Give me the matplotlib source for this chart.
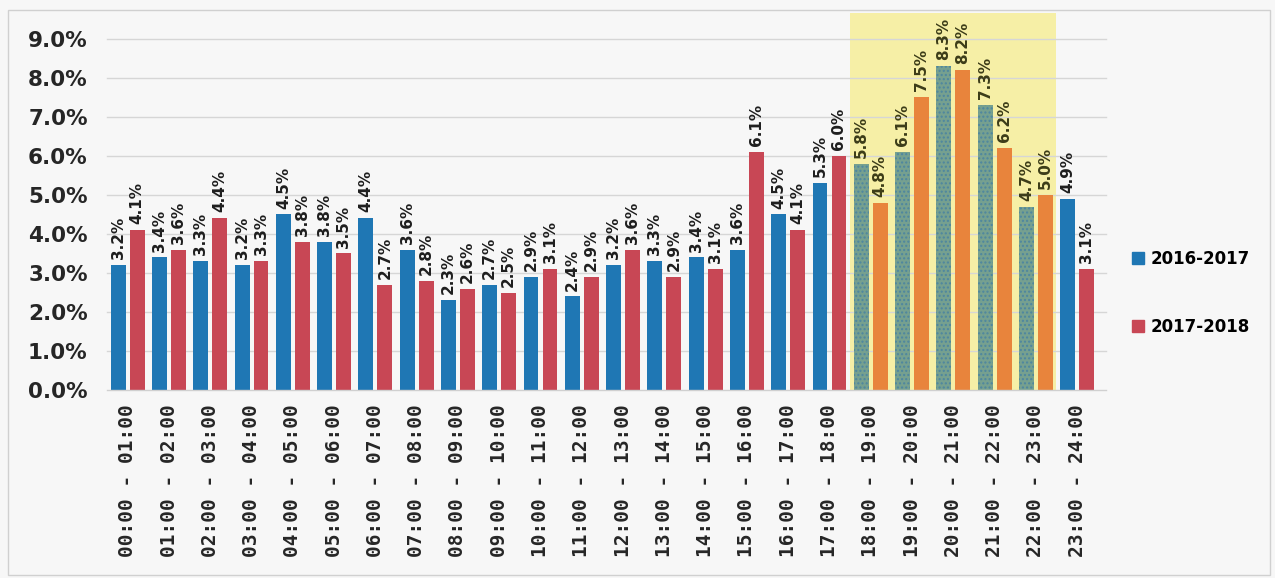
import matplotlib.pyplot as plt
from matplotlib.patches import Rectangle, Patch
import numpy as np

hours = [f"{h:02d}:00 - {h + 1:02d}:00" for h in range(24)]
s2016 = [3.2, 3.4, 3.3, 3.2, 4.5, 3.8, 4.4, 3.6, 2.3, 2.7, 2.9, 2.4,
         3.2, 3.3, 3.4, 3.6, 4.5, 5.3, 5.8, 6.1, 8.3, 7.3, 4.7, 4.9]
s2017 = [4.1, 3.6, 4.4, 3.3, 3.8, 3.5, 2.7, 2.8, 2.6, 2.5, 3.1, 2.9,
         3.6, 2.9, 3.1, 6.1, 4.1, 6.0, 4.8, 7.5, 8.2, 6.2, 5.0, 3.1]
peak = [18, 19, 20, 21, 22]

blue = "#1f77b4"
red = "#c84755"
green = "#76a08f"
orange = "#e8843c"

fig = plt.figure(figsize=(12.75, 5.78), dpi=100, facecolor="#f7f7f7")
fig.patches.append(Rectangle((0.006, 0.005), 0.99, 0.978, transform=fig.transFigure,
                             fill=False, edgecolor="#d0d0d0", linewidth=1))
ax = fig.add_axes([0.084, 0.325, 0.777, 0.652])
ax.set_facecolor("#f7f7f7")

x = np.arange(len(hours))
w = 0.36
off = 0.23

ax.axvspan(17.5, 22.5, color="#f6efa6", zorder=0, linewidth=0)

for i in x:
    in_peak = i in peak
    c1 = green if in_peak else blue
    c2 = orange if in_peak else red
    ax.bar(i - off, s2016[i], w, color=c1, zorder=2,
           hatch="...." if in_peak else None,
           edgecolor="#4d86a0" if in_peak else c1, linewidth=0)
    ax.bar(i + off, s2017[i], w, color=c2, zorder=2, linewidth=0)
    tc = "#3c3c18" if in_peak else "#1e1e1e"
    ax.text(i - off, s2016[i] + 0.15, f"{s2016[i]:.1f}%", rotation=90,
            ha="center", va="bottom", fontsize=11, fontweight="bold", color=tc)
    ax.text(i + off, s2017[i] + 0.15, f"{s2017[i]:.1f}%", rotation=90,
            ha="center", va="bottom", fontsize=11, fontweight="bold", color=tc)

ax.set_xlim(-0.5, 23.5)
ax.set_ylim(0, 9.65)
ax.set_yticks(range(10))
ax.set_yticklabels([f"{v:.1f}%" for v in range(10)], fontsize=15.5,
                   fontweight="bold", color="#262626")
ax.set_xticks(x)
ax.set_xticklabels(hours, rotation=90, fontsize=14, fontweight="bold",
                   family="DejaVu Sans Mono", color="#262626")
ax.tick_params(length=0, pad=10)
ax.tick_params(axis="y", pad=14)

for v in range(1, 10):
    ax.plot([-0.5, 23.7], [v, v], color="#d6d6d6", linewidth=1, zorder=1, clip_on=False)
ax.plot([-0.5, 23.7], [0, 0], color="#d0d0d0", linewidth=1, zorder=3, clip_on=False)
for s in ax.spines.values():
    s.set_visible(False)

handles = [Patch(color=blue), Patch(color=red)]
fig.legend(handles, ["2016-2017", "2017-2018"], loc="center left",
           bbox_to_anchor=(0.876, 0.493), frameon=False, handlelength=0.7,
           handleheight=0.7, handletextpad=0.4, labelspacing=3.0,
           prop={"weight": "bold", "size": 12})

fig.savefig("out.png", dpi=100, facecolor=fig.get_facecolor())
